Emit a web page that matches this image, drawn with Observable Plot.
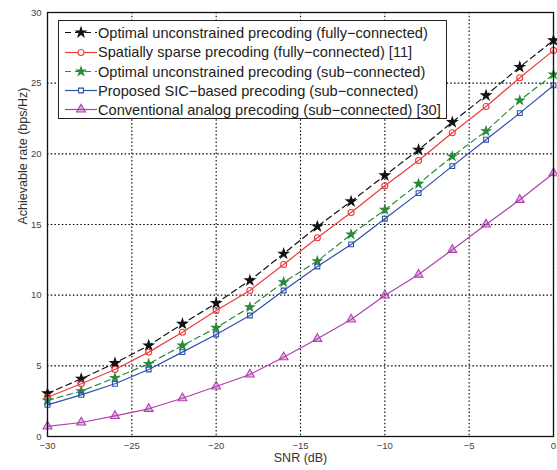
<!DOCTYPE html>
<html>
<head>
<meta charset="utf-8">
<script src="https://cdn.jsdelivr.net/npm/d3@7"></script>
<script src="https://cdn.jsdelivr.net/npm/@observablehq/plot@0.6"></script>
<style>
  body { margin: 0; background: #fff; font-family: "Liberation Sans", Arial, sans-serif; }
  #wrap { position: relative; width: 557px; height: 470px; }
  #legend { position: absolute; left: 58px; top: 20px; width: 387px; height: 97px;
            border: 1.3px solid #222; background: #fff; box-sizing: content-box; }
  .row { position: absolute; left: 0; height: 19px; display: flex; align-items: center;
         font-size: 14.6px; color: #222; white-space: nowrap; }
  .row svg { margin-left: 5px; margin-right: 0px; }
</style>
</head>
<body>
<div id="wrap"></div>
<script>
const snr = [-30, -28, -26, -24, -22, -20, -18, -16, -14, -12, -10, -8, -6, -4, -2, 0];

const optFully   = [3.05, 4.08, 5.19, 6.44, 7.97, 9.43, 11.04, 12.93, 14.86, 16.63, 18.47, 20.28, 22.24, 24.13, 26.14, 28.03];
const sparseFully= [2.78, 3.73, 4.74, 5.97, 7.38, 8.92, 10.33, 12.17, 14.06, 15.85, 17.74, 19.53, 21.49, 23.35, 25.38, 27.32];
const optSub     = [2.55, 3.21, 4.15, 5.14, 6.44, 7.69, 9.15, 10.92, 12.41, 14.30, 16.04, 17.88, 19.82, 21.61, 23.78, 25.62];
const sicSub     = [2.24, 2.95, 3.73, 4.74, 5.97, 7.22, 8.56, 10.33, 12.03, 13.59, 15.41, 17.22, 19.13, 21.00, 22.88, 24.84];
const analogSub  = [0.71, 0.99, 1.46, 1.96, 2.71, 3.54, 4.39, 5.61, 6.91, 8.28, 9.98, 11.46, 13.21, 15.00, 16.75, 18.63];

const seriesNames = [
  "Optimal unconstrained precoding (fully\u2212connected)",
  "Spatially sparse precoding (fully\u2212connected) [11]",
  "Optimal unconstrained precoding (sub\u2212connected)",
  "Proposed SIC\u2212based precoding (sub\u2212connected)",
  "Conventional analog precoding (sub\u2212connected) [30]"
];
const seriesValues = [optFully, sparseFully, optSub, sicSub, analogSub];

const xTicks = [-30, -25, -20, -15, -10, -5, 0];
const yTicks = [0, 5, 10, 15, 20, 25, 30];
const xLabel = "SNR (dB)";
const yLabel = "Achievable rate (bps/Hz)";

const styles = [
  {stroke: "#111111", dash: "6,4", symbol: "star", fill: "#111111", r: 3.0, fillOpacity: 1},
  {stroke: "#f03a3a", dash: null, symbol: "circle", fill: "none", r: 3.0, fillOpacity: 1},
  {stroke: "#2a8a3a", dash: "6,4", symbol: "star", fill: "#2a8a3a", r: 2.7, fillOpacity: 1},
  {stroke: "#2f4fb0", dash: null, symbol: "square", fill: "none", r: 2.7, fillOpacity: 1},
  {stroke: "#b040b0", dash: null, symbol: "triangle", fill: "#b040b0", r: 3.3, fillOpacity: 0.35}
];

const data = [];
seriesValues.forEach((vals, si) => {
  vals.forEach((v, i) => data.push({series: si, snr: snr[i], rate: v}));
});

const marks = [
  Plot.ruleX(xTicks, {stroke: "#000", strokeWidth: 1.1, strokeDasharray: "1.5,2.2"}),
  Plot.ruleY(yTicks, {stroke: "#000", strokeWidth: 1.1, strokeDasharray: "1.5,2.2"}),
];
styles.forEach((s, si) => {
  const d = data.filter(r => r.series === si);
  marks.push(Plot.line(d, {x: "snr", y: "rate", stroke: s.stroke, strokeWidth: 1.2,
    strokeDasharray: s.dash || undefined}));
  marks.push(Plot.dot(d, {x: "snr", y: "rate", symbol: () => s.symbol, r: s.r,
    stroke: s.stroke, strokeWidth: 1.1, fill: s.fill, fillOpacity: s.fillOpacity}));
});
marks.push(Plot.frame({stroke: "#111", strokeWidth: 1.3}));
marks.push(Plot.axisX(xTicks, {tickSize: 0, tickPadding: 6, fontSize: 9.5, fill: "#444", label: null}));
marks.push(Plot.axisY(yTicks, {tickSize: 0, tickPadding: 6, fontSize: 9.5, fill: "#444", label: null}));
marks.push(Plot.text([xLabel], {frameAnchor: "bottom", dy: 25, fontSize: 12.5, fill: "#333"}));
marks.push(Plot.text([yLabel], {frameAnchor: "left", dx: -25, rotate: -90, fontSize: 12.5, fill: "#333"}));

const chart = Plot.plot({
  width: 557,
  height: 470,
  marginLeft: 47,
  marginRight: 4,
  marginTop: 12,
  marginBottom: 34,
  style: {fontFamily: "'Liberation Sans', Arial, sans-serif", fontSize: "12.5px", color: "#333", background: "#fff", overflow: "visible"},
  x: {domain: [-30, 0]},
  y: {domain: [0, 30]},
  marks
});
const wrap = document.getElementById("wrap");
wrap.appendChild(chart);

// legend overlay
const legend = document.createElement("div");
legend.id = "legend";
const rowY = [2, 21.5, 41, 60, 79];
const symMap = {star: d3.symbolStar, circle: d3.symbolCircle, square: d3.symbolSquare, triangle: d3.symbolTriangle};
seriesNames.forEach((name, i) => {
  const s = styles[i];
  const row = document.createElement("div");
  row.className = "row";
  row.style.top = rowY[i] + "px";
  const sw = d3.create("svg").attr("width", 34).attr("height", 19);
  sw.append("line").attr("x1", 1).attr("x2", 33).attr("y1", 9.5).attr("y2", 9.5)
    .attr("stroke", s.stroke).attr("stroke-width", 1.2)
    .attr("stroke-dasharray", s.dash ? "6,4" : null);
  const sym = d3.symbol(symMap[s.symbol], Math.PI * s.r * s.r)();
  sw.append("path").attr("d", sym).attr("transform", "translate(17,9.5)")
    .attr("stroke", s.stroke).attr("stroke-width", 1.1)
    .attr("fill", s.fill === "none" ? "#fff" : s.fill).attr("fill-opacity", s.fill === "none" ? 1 : s.fillOpacity);
  row.appendChild(sw.node());
  const t = document.createElement("span");
  t.textContent = name;
  row.appendChild(t);
  legend.appendChild(row);
});
wrap.appendChild(legend);
</script>
</body>
</html>
